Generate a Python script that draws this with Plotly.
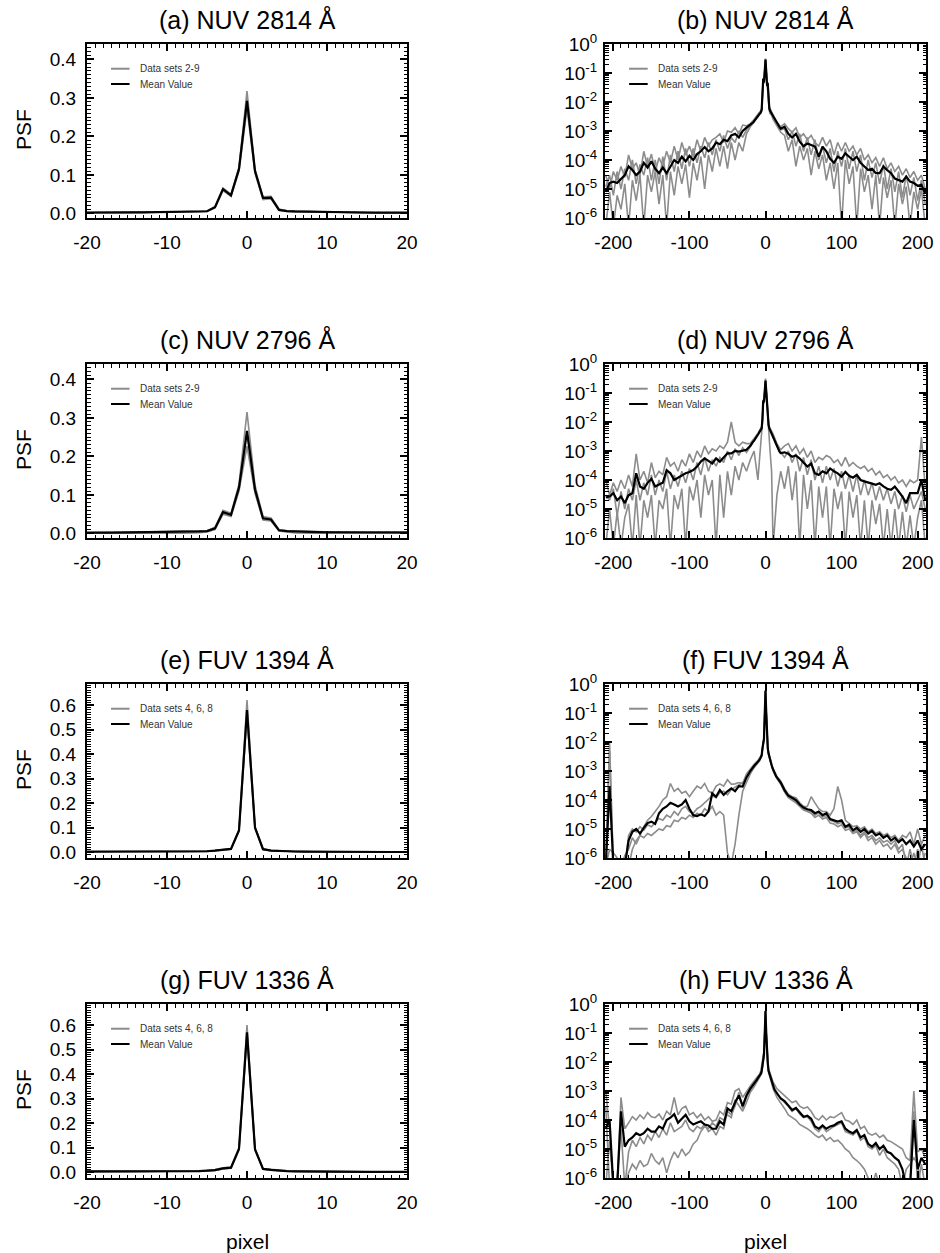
import plotly.graph_objects as go

FONT = "Liberation Sans, Arial, Helvetica, sans-serif"
W, H = 940, 1253
GRAY = "#8c8c8c"

# ---------------- data ----------------
# pixel positions of the mean curves (fine sampling in the core)
X_FINE = [-210, -205, -200, -195, -190, -185, -180, -175, -170, -165, -160, -155, -150, -145, -140,
          -135, -130, -125, -120, -115, -110, -105, -100, -95, -90, -85, -80, -75, -70, -65, -60,
          -55, -50, -45, -40, -35, -30, -25,
          -20, -19, -18, -17, -16, -15, -14, -13, -12, -11, -10, -9, -8, -7, -6, -5, -4, -3, -2, -1,
          0, 1, 2, 3, 4, 5, 6, 7, 8, 9, 10, 11, 12, 13, 14, 15, 16, 17, 18, 19, 20,
          25, 30, 35, 40, 45, 50, 55, 60, 65, 70, 75, 80, 85, 90, 95, 100, 105, 110, 115, 120,
          125, 130, 135, 140, 145, 150, 155, 160, 165, 170, 175, 180, 185, 190, 195, 200, 205, 210]
# pixel positions of the individual data sets
X_SETS = [-210, -205, -200, -195, -190, -185, -180, -175, -170, -165, -160, -155, -150, -145, -140,
          -135, -130, -125, -120, -115, -110, -105, -100, -95, -90, -85, -80, -75, -70, -65, -60,
          -55, -50, -45, -40, -35, -30, -25,
          -20, -15, -10, -8, -6, -5, -4, -3, -2, -1, 0, 1, 2, 3, 4, 5, 6, 8, 10, 15, 20,
          25, 30, 35, 40, 45, 50, 55, 60, 65, 70, 75, 80, 85, 90, 95, 100, 105, 110, 115, 120,
          125, 130, 135, 140, 145, 150, 155, 160, 165, 170, 175, 180, 185, 190, 195, 200, 205, 210]

# ---- NUV 2814 ----
NUV2814_MEAN = [
    8e-6, 1.6e-5, 1.8e-5, 1.6e-5, 2.2e-5, 3e-5, 6e-5, 4.5e-5, 3e-5, 4e-5,
    8e-5, 5.5e-5, 9e-5, 5e-5, 3.5e-5, 5.5e-5, 3.5e-5, 6e-5, 1e-4, 8e-5,
    1.3e-4, 9e-5, 1.4e-4, 1e-4, 1.6e-4, 2e-4, 2.8e-4, 2e-4, 2.5e-4, 4e-4,
    3.5e-4, 5e-4, 4.5e-4, 7e-4, 8e-4, 6e-4, 1e-3, 1.3e-3,
    1.6e-3, 1.7e-3, 1.8e-3, 1.9e-3, 2e-3, 2.2e-3, 2.4e-3, 2.6e-3, 2.9e-3, 3.1e-3, 3.4e-3, 3.7e-3,
    4e-3, 4.2e-3, 4.5e-3, 5.5e-3, 0.016, 0.063, 0.047, 0.115, 0.292, 0.11, 0.04, 0.041, 0.009,
    0.006, 0.005, 0.0045, 0.004, 0.0035, 0.003, 0.0027, 0.0025, 0.0023, 0.002, 0.0018, 0.0017,
    0.0016, 0.0014, 0.0013, 0.0012,
    1.4e-3, 8e-4, 6e-4, 8e-4, 4.3e-4, 3e-4, 3.7e-4, 3.3e-4, 2.9e-4, 1.3e-4,
    2.9e-4, 2e-4, 1.1e-4, 8e-5, 1.3e-4, 1.1e-4, 1.7e-4, 1.3e-4, 1e-4, 1.3e-4,
    8e-5, 6e-5, 4.5e-5, 5e-5, 3.5e-5, 3.5e-5, 6e-5, 4.5e-5, 3.5e-5, 2.3e-5,
    2e-5, 1.8e-5, 2.7e-5, 1.8e-5, 1.6e-5, 1.3e-5, 1.4e-5, 7e-6]
NUV2814_SET_A = [
    3e-5, 1e-5, 4e-5, 2e-5, 6e-5, 2.5e-5, 1.5e-4, 5e-5, 8e-5, 3e-5,
    2e-4, 6e-5, 1.6e-4, 4e-5, 1.2e-4, 6e-5, 2e-4, 8e-5, 3e-4, 1e-4,
    4e-4, 1.5e-4, 3e-4, 1.3e-4, 5e-4, 2e-4, 6e-4, 3e-4, 5e-4, 6e-4,
    8e-4, 4e-4, 1e-3, 9e-4, 1.3e-3, 8e-4, 1.6e-3, 1.5e-3,
    1.8e-3, 2.5e-3, 3.8e-3, 4.3e-3, 5e-3, 6e-3, 0.018, 0.066, 0.05, 0.12, 0.318, 0.115, 0.043,
    0.044, 0.011, 0.007, 0.006, 0.0045, 0.0035, 0.002, 0.0014,
    1.8e-3, 1.2e-3, 9e-4, 1.3e-3, 6e-4, 8e-4, 5e-4, 7e-4, 4e-4, 3e-4,
    6e-4, 3e-4, 5e-4, 1.5e-4, 4e-4, 2e-4, 4e-4, 2e-4, 3e-4, 1.5e-4,
    2.5e-4, 1e-4, 1.5e-4, 8e-5, 1.2e-4, 6e-5, 1.2e-4, 5e-5, 8e-5, 4e-5,
    6e-5, 3e-5, 5e-5, 2.5e-5, 4e-5, 2e-5, 3e-5, 1e-5]
NUV2814_SET_B = [
    5e-7, 8e-6, 5e-7, 6e-6, 2e-6, 1.5e-5, 5e-7, 2e-5, 4e-6, 3e-5,
    5e-7, 3e-5, 8e-6, 4e-5, 3e-6, 3e-5, 5e-7, 4e-5, 6e-6, 6e-5,
    1.5e-5, 7e-5, 5e-6, 8e-5, 2e-5, 1.3e-4, 1e-5, 1.5e-4, 4e-5, 2.5e-4,
    6e-5, 3e-4, 5e-5, 4e-4, 1e-4, 4e-4, 2e-4, 8e-4,
    1.4e-3, 2e-3, 3e-3, 3.7e-3, 4e-3, 5e-3, 0.014, 0.059, 0.044, 0.11, 0.272, 0.105, 0.036,
    0.038, 0.008, 0.005, 0.004, 0.0035, 0.0025, 0.0015, 9e-4,
    7e-4, 2e-4, 5e-4, 6e-5, 3e-4, 1e-4, 2.5e-4, 3e-5, 2e-4, 5e-5,
    1.5e-4, 2e-5, 8e-5, 1e-5, 8e-5, 5e-7, 1e-4, 1.5e-5, 6e-5, 5e-7,
    5e-5, 8e-6, 3e-5, 2e-6, 3e-5, 5e-7, 2.5e-5, 5e-6, 2e-5, 5e-7,
    1.5e-5, 3e-6, 1.2e-5, 5e-7, 8e-6, 2e-6, 1e-5, 5e-7]
NUV2814_SET_C = [
    1.2e-5, 3e-5, 6e-6, 4e-5, 1e-5, 5e-5, 2e-5, 1e-4, 1.5e-5, 7e-5,
    3e-5, 1.2e-4, 2e-5, 1e-4, 1.5e-5, 1.3e-4, 2e-5, 1.5e-4, 4e-5, 2e-4,
    5e-5, 2.5e-4, 6e-5, 2.5e-4, 8e-5, 3e-4, 1.2e-4, 4e-4, 1.5e-4, 5e-4,
    2e-4, 7e-4, 2.5e-4, 6e-4, 4e-4, 1e-3, 6e-4, 1.1e-3,
    1.5e-3, 2.3e-3, 3.4e-3, 4e-3, 4.6e-3, 5.5e-3, 0.016, 0.064, 0.046, 0.118, 0.3, 0.108, 0.041,
    0.04, 0.01, 0.006, 0.005, 0.004, 0.003, 0.0017, 1.1e-3,
    1.2e-3, 5e-4, 1e-3, 3e-4, 8e-4, 2e-4, 6e-4, 1.5e-4, 5e-4, 1e-4,
    3e-4, 8e-5, 2.5e-4, 4e-5, 2e-4, 6e-5, 2.5e-4, 5e-5, 2e-4, 4e-5,
    1.5e-4, 2e-5, 1e-4, 2.5e-5, 8e-5, 1.5e-5, 7e-5, 1e-5, 5e-5, 8e-6,
    4e-5, 5e-6, 3e-5, 6e-6, 2.5e-5, 4e-6, 2e-5, 3e-6]

# ---- NUV 2796 ----
NUV2796_MEAN = [
    2.5e-5, 2.7e-5, 3.5e-5, 2e-5, 2.7e-5, 1.6e-5, 3e-5, 3.5e-5, 1.7e-4, 6e-5,
    5e-5, 8e-5, 1.1e-4, 6e-5, 7e-5, 8e-5, 2.2e-4, 1.7e-4, 1e-4, 1.2e-4,
    1.5e-4, 1.7e-4, 1.9e-4, 2.2e-4, 2.9e-4, 4.3e-4, 5.6e-4, 4.5e-4, 3.7e-4, 5.6e-4,
    4.3e-4, 6e-4, 8.3e-4, 8.3e-4, 1e-3, 9.5e-4, 1e-3, 1.1e-3,
    1.5e-3, 1.6e-3, 1.8e-3, 2e-3, 2.1e-3, 2.3e-3, 2.5e-3, 2.7e-3, 3e-3, 3.3e-3, 3.6e-3, 4e-3,
    4.5e-3, 5e-3, 5e-3, 6e-3, 0.013, 0.055, 0.048, 0.119, 0.266, 0.114, 0.039, 0.036, 0.008,
    0.006, 0.005, 0.0045, 0.004, 0.0035, 0.003, 0.0026, 0.0022, 0.0019, 0.0016, 0.0014, 0.0012,
    0.0011, 0.001, 9e-4, 8.5e-4,
    9e-4, 8e-4, 6.3e-4, 7e-4, 5.5e-4, 4e-4, 2.9e-4, 3.7e-4, 1.7e-4, 1.5e-4,
    2e-4, 1.7e-4, 2.5e-4, 2e-4, 1.7e-4, 1.3e-4, 1.9e-4, 1.4e-4, 1.2e-4, 1.5e-4,
    1e-4, 9e-5, 8e-5, 7.5e-5, 6.8e-5, 7.7e-5, 6e-5, 5e-5, 4.6e-5, 5.9e-5,
    4e-5, 2.7e-5, 1.6e-5, 3.5e-5, 3.5e-5, 3.5e-5, 1e-4, 2e-5]
NUV2796_SET_A = [
    1e-4, 3e-5, 8e-5, 4e-5, 1e-4, 5e-5, 1.5e-4, 6e-5, 8e-4, 1e-4,
    2e-4, 8e-5, 4e-4, 1.2e-4, 2e-4, 1.5e-4, 6e-4, 3e-4, 4e-4, 2e-4,
    5e-4, 3e-4, 8e-4, 4e-4, 1e-3, 6e-4, 1.5e-3, 8e-4, 1.2e-3, 1e-3,
    1.5e-3, 1.2e-3, 2e-3, 1e-2, 2e-3, 1.5e-3, 2e-3, 1.8e-3,
    1.8e-3, 2.6e-3, 4e-3, 5e-3, 6e-3, 7e-3, 0.016, 0.06, 0.052, 0.128, 0.315, 0.125, 0.044,
    0.04, 0.01, 0.007, 0.006, 0.005, 0.0038, 0.0018, 1.1e-3,
    1.5e-3, 1.8e-3, 1e-3, 1.5e-3, 8e-4, 1.2e-3, 6e-4, 1e-3, 4e-4, 6e-4,
    5e-4, 7e-4, 6e-4, 4e-4, 5e-4, 3e-4, 6e-4, 3e-4, 4e-4, 3e-4,
    2.5e-4, 3e-4, 2e-4, 2.5e-4, 1.5e-4, 2e-4, 1.2e-4, 1.5e-4, 1e-4, 1.3e-4,
    8e-5, 1e-4, 6e-5, 1e-4, 8e-5, 1e-4, 3e-3, 5e-5]
NUV2796_SET_B = [
    5e-7, 1e-5, 5e-7, 8e-6, 5e-7, 5e-6, 1.5e-5, 5e-7, 3e-5, 5e-7,
    2e-5, 5e-6, 3e-5, 5e-7, 2e-5, 1e-5, 5e-5, 5e-7, 3e-5, 1e-5,
    5e-5, 5e-7, 6e-5, 2e-5, 1e-4, 5e-6, 1.5e-4, 3e-5, 1e-4, 5e-7,
    1.5e-4, 5e-6, 2e-4, 3e-5, 3e-4, 1e-4, 4e-4, 2e-4,
    5e-4, 1e-3, 1e-4, 5e-4, 2e-3, 4e-3, 0.01, 0.05, 0.044, 0.11, 0.227, 0.104, 0.035,
    0.032, 0.006, 0.003, 0.001, 2e-4, 5e-7, 3e-5, 2e-4,
    5e-5, 3e-4, 2e-5, 2e-4, 5e-7, 1.5e-4, 1e-5, 1e-4, 5e-7, 6e-5,
    5e-6, 6e-5, 5e-7, 5e-5, 1e-5, 4e-5, 5e-7, 4e-5, 5e-6, 3e-5,
    5e-7, 2e-5, 5e-7, 2e-5, 3e-6, 1.5e-5, 5e-7, 1e-5, 5e-7, 1e-5,
    5e-7, 8e-6, 5e-7, 6e-6, 5e-7, 5e-6, 2e-5, 5e-7]
NUV2796_SET_C = [
    3e-5, 2e-5, 5e-5, 6e-6, 4e-5, 1e-5, 5e-5, 2e-5, 1e-4, 2e-5,
    8e-5, 3e-5, 1.5e-4, 3e-5, 1e-4, 4e-5, 2e-4, 5e-5, 1.5e-4, 6e-5,
    2e-4, 8e-5, 2.5e-4, 1e-4, 4e-4, 1.5e-4, 6e-4, 2e-4, 5e-4, 3e-4,
    6e-4, 4e-4, 1e-3, 5e-4, 1.2e-3, 7e-4, 1.3e-3, 9e-4,
    1.4e-3, 2.2e-3, 3.5e-3, 4.2e-3, 5e-3, 6e-3, 0.013, 0.056, 0.047, 0.118, 0.262, 0.112, 0.038,
    0.035, 0.008, 0.006, 0.005, 0.004, 0.003, 0.0015, 9e-4,
    6e-4, 1e-3, 4e-4, 8e-4, 2e-4, 6e-4, 1.5e-4, 5e-4, 1e-4, 3e-4,
    8e-5, 3e-4, 1e-4, 2.5e-4, 6e-5, 2e-4, 5e-5, 1.5e-4, 4e-5, 1.5e-4,
    3e-5, 1e-4, 3e-5, 8e-5, 2e-5, 6e-5, 2e-5, 5e-5, 1.5e-5, 4e-5,
    1e-5, 3e-5, 8e-6, 3e-5, 1e-5, 2e-5, 4e-5, 1e-5]

# ---- FUV 1394 ----
FUV1394_MEAN = [
    5e-7, 3e-4, 5e-7, 5e-7, 5e-7, 5e-7, 4e-6, 8e-6, 1e-5, 7e-6,
    1.1e-5, 1.6e-5, 1.8e-5, 1.5e-5, 3.5e-5, 5e-5, 6e-5, 8e-5, 7e-5, 6e-5,
    7e-5, 1e-4, 5e-5, 3e-5, 2.8e-5, 3.2e-5, 2.8e-5, 4e-5, 1.7e-4, 1.3e-4,
    2.2e-4, 1.5e-4, 2e-4, 2.5e-4, 2e-4, 3e-4, 2.9e-4, 6e-4,
    1e-3, 1.1e-3, 1.2e-3, 1.3e-3, 1.4e-3, 1.5e-3, 1.6e-3, 1.7e-3, 1.8e-3, 1.9e-3, 2e-3, 2.2e-3,
    2.4e-3, 2.7e-3, 3e-3, 3.5e-3, 6e-3, 0.01, 0.013, 0.088, 0.58, 0.1, 0.012, 0.006, 0.004,
    0.003, 0.0025, 0.002, 0.0016, 0.0013, 0.0011, 9e-4, 8e-4, 7e-4, 6.5e-4, 6e-4, 5.5e-4,
    5e-4, 5e-4, 4.5e-4, 4e-4,
    2.2e-4, 1.4e-4, 1.2e-4, 1e-4, 7e-5, 5.5e-5, 4.8e-5, 4.5e-5, 3.5e-5, 4e-5,
    3e-5, 3.5e-5, 2.2e-5, 2e-5, 1.8e-5, 2e-5, 1.2e-5, 1.4e-5, 9e-6, 1.1e-5,
    8e-6, 1e-5, 7e-6, 8.5e-6, 6e-6, 7e-6, 5e-6, 6e-6, 4e-6, 5e-6,
    3.5e-6, 4.5e-6, 3e-6, 4e-6, 2.5e-6, 4e-6, 2e-6, 3e-6]
FUV1394_SET_A = [
    5e-7, 1e-2, 5e-7, 5e-7, 5e-7, 5e-7, 5e-7, 2e-6, 4e-6, 6e-6,
    1.2e-5, 2e-5, 2.7e-5, 4e-5, 6e-5, 1e-4, 1.3e-4, 3.7e-4, 2e-4, 2.5e-4,
    1.7e-4, 2e-4, 1.3e-4, 2e-4, 3e-4, 2.5e-4, 3.7e-4, 2e-4, 1.7e-4, 3e-4,
    3.6e-4, 3e-4, 5e-4, 3.5e-4, 3.6e-4, 4e-4, 3.7e-4, 8e-4,
    1.2e-3, 1.7e-3, 2.3e-3, 2.7e-3, 3.3e-3, 3.8e-3, 6.5e-3, 0.011, 0.014, 0.092, 0.62, 0.104,
    0.013, 0.007, 0.0045, 0.0033, 0.0028, 0.0018, 0.0012, 6.5e-4, 4.5e-4,
    2.5e-4, 1.6e-4, 1.3e-4, 1.2e-4, 8e-5, 6e-5, 6e-5, 1.3e-4, 8e-5, 5e-5,
    4e-5, 4e-5, 3e-5, 5e-5, 2.9e-4, 1e-4, 2e-5, 1.6e-5, 1.2e-5, 1.3e-5,
    1e-5, 1.2e-5, 8e-6, 1e-5, 7e-6, 8e-6, 6e-6, 7e-6, 5e-6, 6e-6,
    4e-6, 6e-6, 5e-6, 8e-6, 3e-6, 1e-5, 3e-6, 6e-6]
FUV1394_SET_B = [
    1e-6, 5e-3, 5e-7, 5e-7, 5e-7, 5e-7, 6e-6, 1e-5, 8e-6, 1.2e-5,
    9e-6, 1.4e-5, 1.2e-5, 1.6e-5, 2.3e-5, 2e-5, 3e-5, 2.5e-5, 4e-5, 3e-5,
    5e-5, 6e-5, 4e-5, 3.5e-5, 5e-5, 6e-5, 8e-5, 1e-4, 1.4e-4, 1.2e-4,
    1.8e-4, 2e-4, 1.5e-4, 2.3e-4, 2.8e-4, 3.5e-4, 4e-4, 6e-4,
    1e-3, 1.5e-3, 2e-3, 2.4e-3, 3e-3, 3.4e-3, 5.8e-3, 0.0098, 0.013, 0.087, 0.57, 0.099,
    0.012, 0.006, 0.004, 0.003, 0.0025, 0.0016, 0.0011, 6e-4, 4e-4,
    2e-4, 1.3e-4, 1.1e-4, 9e-5, 6.5e-5, 5e-5, 4.2e-5, 4e-5, 3e-5, 3.6e-5,
    2.6e-5, 3e-5, 2e-5, 1.8e-5, 1.5e-5, 1.7e-5, 1.1e-5, 1.2e-5, 8e-6, 9e-6,
    6e-6, 8e-6, 5e-6, 6e-6, 4e-6, 5e-6, 3.5e-6, 4e-6, 3e-6, 4e-6,
    2e-6, 3e-6, 5e-7, 2e-6, 5e-7, 2e-6, 5e-7, 1.5e-6]
FUV1394_SET_C = [
    5e-7, 2e-6, 1.5e-6, 1e-6, 5e-7, 1.2e-6, 2e-6, 5e-6, 3e-6, 6e-6,
    5e-6, 7e-6, 6e-6, 8e-6, 1e-5, 9e-6, 1.3e-5, 1.2e-5, 2e-5, 1.8e-5,
    2.5e-5, 2.2e-5, 3e-5, 2.5e-5, 3.5e-5, 3e-5, 5e-5, 4e-5, 6e-5, 3e-5,
    4e-5, 3e-5, 1.5e-6, 6e-7, 3e-6, 3e-5, 2e-4, 4e-4,
    8e-4, 1.3e-3, 1.8e-3, 2.2e-3, 2.8e-3, 3.2e-3, 5.5e-3, 0.009, 0.012, 0.085, 0.56, 0.097,
    0.011, 0.0055, 0.0038, 0.0028, 0.0023, 0.0015, 0.001, 5.5e-4, 3.5e-4,
    1.9e-4, 1.2e-4, 1e-4, 8e-5, 6e-5, 4.5e-5, 4e-5, 3.5e-5, 2.5e-5, 3e-5,
    2.2e-5, 2.5e-5, 1.6e-5, 1.5e-5, 1.2e-5, 1.4e-5, 9e-6, 1e-5, 7e-6, 8e-6,
    5e-6, 7e-6, 4e-6, 5e-6, 3e-6, 4e-6, 2.5e-6, 3e-6, 2e-6, 3e-6,
    1.5e-6, 2e-6, 1e-6, 5e-7, 1.5e-6, 5e-7, 3e-6, 5e-7]

# ---- FUV 1336 ----
FUV1336_MEAN = [
    5e-5, 1e-4, 5e-7, 5e-7, 2e-4, 1.2e-5, 2e-5, 2.5e-5, 3.5e-5, 3e-5,
    3.5e-5, 5e-5, 4e-5, 4e-5, 6e-5, 5e-5, 1e-4, 1.2e-4, 1.6e-4, 8e-5,
    1.1e-4, 1.5e-4, 9e-5, 7e-5, 8e-5, 9e-5, 7e-5, 6.5e-5, 5e-5, 5e-5,
    9e-5, 7e-5, 2.5e-4, 2e-4, 4e-4, 7e-4, 3e-4, 7e-4,
    1.2e-3, 1.3e-3, 1.4e-3, 1.5e-3, 1.6e-3, 1.7e-3, 1.8e-3, 2e-3, 2.2e-3, 2.5e-3, 2.8e-3, 3e-3,
    3.3e-3, 3.6e-3, 4e-3, 5e-3, 8e-3, 0.015, 0.018, 0.095, 0.57, 0.093, 0.013, 0.009, 0.005,
    0.004, 0.0033, 0.0027, 0.0022, 0.0018, 0.0015, 0.0013, 0.0011, 1e-3, 9e-4, 8e-4, 7.5e-4,
    7e-4, 6.5e-4, 6e-4, 5.5e-4,
    4.5e-4, 3e-4, 2.2e-4, 2.6e-4, 1.8e-4, 1.3e-4, 1.4e-4, 1.1e-4, 6e-5, 5e-5,
    6.5e-5, 5e-5, 6e-5, 6.5e-5, 8e-5, 9e-5, 5e-5, 4e-5, 3.5e-5, 4.5e-5,
    2.5e-5, 3e-5, 1.5e-5, 1.2e-5, 1.6e-5, 1e-5, 1.3e-5, 8e-6, 7e-6, 5e-6,
    4e-6, 2e-6, 5e-7, 5e-7, 1e-4, 2e-6, 5e-6, 3e-6]
FUV1336_SET_A = [
    1e-3, 5e-5, 5e-7, 5e-7, 6e-4, 5e-5, 8e-5, 1.3e-4, 1e-4, 1.5e-4,
    1.1e-4, 1.8e-4, 1.3e-4, 1.2e-4, 1.6e-4, 1e-4, 2e-4, 1.5e-4, 6e-4, 1.5e-4,
    2.5e-4, 3e-4, 1.5e-4, 1.8e-4, 1.2e-4, 1.6e-4, 1e-4, 1.3e-4, 9e-5, 1e-4,
    2e-4, 1.5e-4, 4e-4, 3.5e-4, 1e-3, 1.2e-3, 6e-4, 1e-3,
    1.5e-3, 2.2e-3, 3.3e-3, 3.8e-3, 5e-3, 6.5e-3, 0.011, 0.018, 0.021, 0.1, 0.6, 0.097,
    0.015, 0.011, 0.006, 0.005, 0.004, 0.0028, 0.002, 1.2e-3, 9e-4,
    7e-4, 5e-4, 4e-4, 4.5e-4, 3e-4, 2.5e-4, 2.8e-4, 2e-4, 1.2e-4, 1e-4,
    1.4e-4, 1e-4, 1.3e-4, 1.2e-4, 1.5e-4, 1.8e-4, 1e-4, 9e-5, 7e-5, 1e-4,
    5e-5, 6e-5, 3.5e-5, 3e-5, 3.5e-5, 2.5e-5, 3e-5, 2e-5, 1.8e-5, 1.5e-5,
    1.2e-5, 1e-5, 5e-6, 4e-6, 1e-3, 8e-6, 1e-5, 5e-6]
FUV1336_SET_B = [
    3e-4, 5e-7, 5e-7, 1e-6, 5e-5, 5e-7, 8e-6, 2e-5, 1.2e-5, 2.5e-5,
    1.5e-5, 3e-5, 2e-5, 4e-5, 2.5e-5, 5e-5, 3e-5, 8e-5, 4e-5, 5e-5,
    6e-5, 1e-4, 5e-5, 4e-5, 6e-5, 5e-5, 7e-5, 4e-5, 5e-5, 3e-5,
    6e-5, 5e-5, 2e-4, 1.5e-4, 3e-4, 9e-4, 2.5e-4, 6e-4,
    1.1e-3, 1.6e-3, 2.6e-3, 3.2e-3, 3.8e-3, 4.6e-3, 7.5e-3, 0.014, 0.017, 0.093, 0.565, 0.092,
    0.013, 0.009, 0.005, 0.004, 0.0033, 0.0022, 0.0015, 8e-4, 5.5e-4,
    4e-4, 3e-4, 2e-4, 2.5e-4, 1.6e-4, 1.2e-4, 1.3e-4, 9e-5, 5e-5, 4e-5,
    6e-5, 4e-5, 5e-5, 6e-5, 7e-5, 8e-5, 4e-5, 3.5e-5, 3e-5, 4e-5,
    2e-5, 2.5e-5, 1.2e-5, 1e-5, 1.3e-5, 6e-6, 1e-5, 5e-6, 4e-6, 3e-6,
    2e-6, 5e-7, 5e-7, 5e-7, 2e-4, 5e-7, 3e-6, 5e-7]
FUV1336_SET_C = [
    5e-7, 2e-5, 5e-7, 5e-7, 5e-7, 5e-7, 1.5e-6, 3e-6, 2e-6, 4e-6,
    2.5e-6, 3e-6, 7e-6, 4e-6, 3e-6, 5e-6, 1.5e-6, 4e-6, 8e-6, 5e-6,
    1e-5, 6e-6, 8e-6, 1.5e-5, 2e-5, 4e-5, 6e-5, 5e-5, 8e-5, 6e-5,
    1.2e-4, 1e-4, 1.5e-4, 1.2e-4, 5e-4, 3e-4, 2e-4, 4e-4,
    9e-4, 1.4e-3, 2.3e-3, 2.8e-3, 3.3e-3, 4e-3, 6.5e-3, 0.013, 0.016, 0.09, 0.56, 0.09,
    0.012, 0.008, 0.0045, 0.0035, 0.003, 0.0019, 0.0012, 6e-4, 4e-4,
    2.5e-4, 1.5e-4, 1.2e-4, 1e-4, 7e-5, 6e-5, 5e-5, 4e-5, 3e-5, 2.5e-5,
    3e-5, 2e-5, 2.5e-5, 1.8e-5, 2e-5, 1.5e-5, 1e-5, 8e-6, 5e-6, 4e-6,
    3e-6, 2e-6, 1e-6, 5e-7, 1.5e-6, 5e-7, 5e-7, 1e-6, 5e-7, 5e-7,
    1e-6, 5e-7, 2e-6, 3e-6, 5e-6, 3e-6, 5e-7, 1e-6]

TITLES_LIN = ["(a) NUV 2814 Å", "(c) NUV 2796 Å", "(e) FUV 1394 Å", "(g) FUV 1336 Å"]
TITLES_LOG = ["(b) NUV 2814 Å", "(d) NUV 2796 Å", "(f) FUV 1394 Å", "(h) FUV 1336 Å"]
SETS_LABELS = ["Data sets 2-9", "Data sets 2-9", "Data sets 4, 6, 8", "Data sets 4, 6, 8"]
MEAN_LABEL = "Mean Value"

MEANS = [NUV2814_MEAN, NUV2796_MEAN, FUV1394_MEAN, FUV1336_MEAN]
SETS = [[NUV2814_SET_A, NUV2814_SET_B, NUV2814_SET_C],
        [NUV2796_SET_A, NUV2796_SET_B, NUV2796_SET_C],
        [FUV1394_SET_A, FUV1394_SET_B, FUV1394_SET_C],
        [FUV1336_SET_A, FUV1336_SET_B, FUV1336_SET_C]]

X_LIN_TICKS = [-20, -10, 0, 10, 20]
X_LIN_TEXT = ["-20", "-10", "0", "10", "20"]
X_LOG_TICKS = [-200, -100, 0, 100, 200]
X_LOG_TEXT = ["-200", "-100", "0", "100", "200"]
Y_LIN_TICKS = [[0, 0.1, 0.2, 0.3, 0.4], [0, 0.1, 0.2, 0.3, 0.4],
               [0, 0.1, 0.2, 0.3, 0.4, 0.5, 0.6], [0, 0.1, 0.2, 0.3, 0.4, 0.5, 0.6]]
Y_LIN_TEXT = [["0.0", "0.1", "0.2", "0.3", "0.4"], ["0.0", "0.1", "0.2", "0.3", "0.4"],
              ["0.0", "0.1", "0.2", "0.3", "0.4", "0.5", "0.6"],
              ["0.0", "0.1", "0.2", "0.3", "0.4", "0.5", "0.6"]]
Y_LOG_TICKS = [1, 0.1, 0.01, 1e-3, 1e-4, 1e-5, 1e-6]
Y_LOG_TEXT = ["10<sup>0</sup>", "10<sup>-1</sup>", "10<sup>-2</sup>", "10<sup>-3</sup>",
              "10<sup>-4</sup>", "10<sup>-5</sup>", "10<sup>-6</sup>"]

for m in MEANS:
    assert len(m) == len(X_FINE), len(m)
for group in SETS:
    for s in group:
        assert len(s) == len(X_SETS), len(s)

# ---------------- layout geometry ----------------
ROW_TOP = [44, 364, 684, 1004]
PLOT_H = 174
COL_PX = [(87, 407), (605, 926)]
Y_LIN_RANGE = [[-0.012, 0.44], [-0.012, 0.44], [-0.024, 0.686], [-0.024, 0.686]]
X_LIN_RANGE = [-20, 20]
X_LOG_RANGE = [-211, 211]
Y_LOG_RANGE = [-6, 0]

fig = go.Figure()
layout = dict(width=W, height=H,
              margin=dict(l=0, r=0, t=0, b=0, pad=0, autoexpand=False),
              paper_bgcolor="white", plot_bgcolor="white", showlegend=False,
              font=dict(family=FONT, color="black"))

axis_common = dict(showline=True, linecolor="black", linewidth=2, mirror="allticks",
                   ticks="inside", ticklen=7, tickwidth=1.5, tickcolor="black",
                   showgrid=False, zeroline=False, tickmode="array", automargin=False,
                   tickfont=dict(family=FONT, size=19, color="black"))

annotations = []
shapes = []

for r in range(4):
    top = ROW_TOP[r]
    bot = top + PLOT_H
    ydom = [1 - bot / H, 1 - top / H]
    for c in range(2):
        idx = 2 * r + c + 1
        sfx = "" if idx == 1 else str(idx)
        xref, yref = "x" + sfx, "y" + sfx
        x0, x1 = COL_PX[c]
        xdom = [x0 / W, x1 / W]
        if c == 0:
            xa = dict(axis_common, domain=xdom, anchor=yref, range=X_LIN_RANGE,
                      tickvals=X_LIN_TICKS, ticktext=X_LIN_TEXT, ticklabelstandoff=6,
                      minor=dict(ticks="inside", dtick=1, ticklen=3.5, tickwidth=1,
                                 tickcolor="black", showgrid=False))
            ya = dict(axis_common, domain=ydom, anchor=xref, range=Y_LIN_RANGE[r],
                      tickvals=Y_LIN_TICKS[r], ticktext=Y_LIN_TEXT[r], ticklabelstandoff=5,
                      minor=dict(ticks="inside", dtick=0.01, tick0=0, ticklen=3.5, tickwidth=1,
                                 tickcolor="black", showgrid=False))
        else:
            xa = dict(axis_common, domain=xdom, anchor=yref, range=X_LOG_RANGE,
                      tickvals=X_LOG_TICKS, ticktext=X_LOG_TEXT, ticklabelstandoff=6,
                      minor=dict(ticks="inside", dtick=10, tick0=0, ticklen=3.5, tickwidth=1,
                                 tickcolor="black", showgrid=False))
            ya = dict(axis_common, domain=ydom, anchor=xref, type="log", range=Y_LOG_RANGE,
                      tickvals=Y_LOG_TICKS, ticktext=Y_LOG_TEXT, ticklabelstandoff=2,
                      minor=dict(ticks="inside", dtick="D1", ticklen=3.5, tickwidth=1,
                                 tickcolor="black", showgrid=False))
        layout["xaxis" + sfx] = xa
        layout["yaxis" + sfx] = ya

        # traces: individual data sets (gray) then the mean (black)
        for s in SETS[r]:
            fig.add_trace(go.Scatter(x=X_SETS, y=s, xaxis=xref, yaxis=yref, mode="lines",
                                     line=dict(color=GRAY, width=1.6), hoverinfo="skip"))
        fig.add_trace(go.Scatter(x=X_FINE, y=MEANS[r], xaxis=xref, yaxis=yref, mode="lines",
                                 line=dict(color="black", width=2.2), hoverinfo="skip"))

        # panel title
        title = TITLES_LIN[r] if c == 0 else TITLES_LOG[r]
        annotations.append(dict(text=title, xref="paper", yref="paper",
                                x=(x0 + x1) / 2 / W, y=1 - (top - 24.5) / H,
                                xanchor="center", yanchor="middle", showarrow=False,
                                font=dict(family=FONT, size=25, color="black")))
        # in-panel legend
        for k, (label, col) in enumerate([(SETS_LABELS[r], GRAY), (MEAN_LABEL, "black")]):
            yy = 0.858 - 0.088 * k
            shapes.append(dict(type="line", xref=xref + " domain", yref=yref + " domain",
                               x0=0.075, x1=0.133, y0=yy, y1=yy,
                               line=dict(color=col, width=2)))
            annotations.append(dict(text=label, xref=xref + " domain", yref=yref + " domain",
                                    x=0.158, y=yy, xanchor="left", yanchor="middle",
                                    showarrow=False,
                                    font=dict(family=FONT, size=10, color="#333333")))
    # y-axis title on the left column
    annotations.append(dict(text="PSF", xref="paper", yref="paper", x=23 / W,
                            y=1 - (top + 86) / H, xanchor="center", yanchor="middle",
                            textangle=-90, showarrow=False,
                            font=dict(family=FONT, size=21, color="black")))

# x-axis titles, bottom row
for c in range(2):
    x0, x1 = COL_PX[c]
    annotations.append(dict(text="pixel", xref="paper", yref="paper", x=(x0 + x1) / 2 / W,
                            y=1 - 1241 / H, xanchor="center", yanchor="middle", showarrow=False,
                            font=dict(family=FONT, size=21, color="black")))

layout["annotations"] = annotations
layout["shapes"] = shapes
fig.update_layout(**layout)
fig.write_html("out.html",
               post_script="document.body.style.margin='0';document.body.style.overflow='hidden';")
